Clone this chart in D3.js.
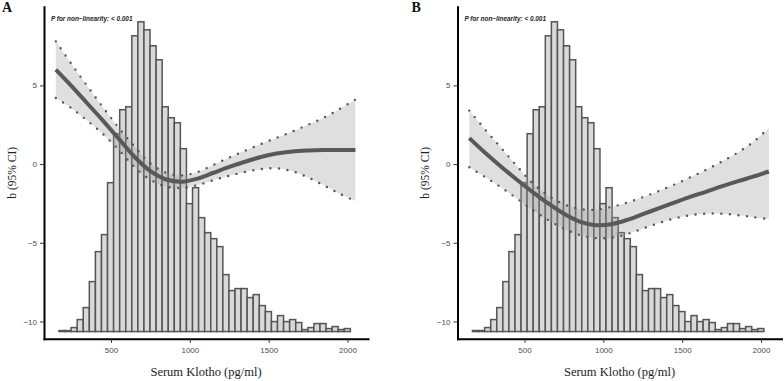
<!DOCTYPE html>
<html>
<head>
<meta charset="utf-8">
<script src="https://cdn.jsdelivr.net/npm/d3@7"></script>
<style>
  body { margin: 0; background: #fff; }
  svg { display: block; }
</style>
</head>
<body>
<div id="chart"></div>
<script>
// histogram of serum klotho (same distribution in both panels)
const binStart = 170, binWidth = 38.5;
const histCounts = [1, 1, 4, 12, 24, 50, 80, 97, 149, 198, 222, 225, 296, 310, 302, 286,
    272, 225, 214, 209, 183, 128, 144, 114, 99, 93, 85, 57, 41, 43, 43, 34,
    37, 26, 20, 10, 16, 10, 12, 9, 2, 4, 8, 8, 3, 5, 2, 3];

// spline fit
const klothoGrid = [150, 250, 350, 450, 550, 650, 750, 850, 950, 1050,
    1150, 1250, 1350, 1450, 1550, 1650, 1750, 1850, 1950, 2050];

const estA = [6.0, 4.95, 3.85, 2.75, 1.6, 0.45, -0.45, -0.98, -1.12, -0.92,
    -0.55, -0.18, 0.15, 0.45, 0.67, 0.8, 0.86, 0.89, 0.9, 0.9];
const upperA = [7.8, 6.35, 4.95, 3.6, 2.3, 1.1, 0.05, -0.55, -0.72, -0.5,
    -0.05, 0.42, 0.85, 1.27, 1.67, 2.07, 2.5, 2.95, 3.5, 4.1];
const lowerA = [4.2, 3.55, 2.75, 1.9, 0.9, -0.2, -1.0, -1.42, -1.52, -1.33,
    -1.02, -0.74, -0.5, -0.32, -0.27, -0.45, -0.85, -1.35, -1.88, -2.35];

const estB = [1.65, 0.72, -0.15, -0.98, -1.76, -2.5, -3.15, -3.65, -3.88, -3.82,
    -3.55, -3.18, -2.82, -2.45, -2.08, -1.76, -1.42, -1.1, -0.8, -0.47];
const upperB = [3.4, 2.2, 1.05, -0.1, -1.2, -2.0, -2.55, -2.85, -2.9, -2.72,
    -2.45, -2.1, -1.72, -1.3, -0.85, -0.37, 0.15, 0.72, 1.4, 2.3];
const lowerB = [-0.2, -0.82, -1.47, -2.17, -2.9, -3.55, -4.1, -4.5, -4.7, -4.68,
    -4.45, -4.1, -3.75, -3.45, -3.25, -3.15, -3.15, -3.24, -3.37, -3.5];

const xTicks = [500, 1000, 1500, 2000];
const yTicks = [-10, -5, 0, 5];
const pText = "P for non\u2212linearity: < 0.001";

const width = 784, height = 381;
const plotW = 324;

const svg = d3.select("#chart").append("svg")
    .attr("width", width)
    .attr("height", height);

const y = d3.scaleLinear().domain([-11.1, 10]).range([338.8, 6.7]);
const x = d3.scaleLinear().domain([75, 2130]).range([0, plotW]);
const yHist = d3.scaleLinear().domain([0, 310]).range([y(-10.64), y(9.04)]);

const bins = histCounts.map((c, i) => ({
    x0: binStart + i * binWidth,
    x1: binStart + (i + 1) * binWidth,
    count: c
}));

const panels = [
    { label: "A", left: 44, est: estA, lo: lowerA, hi: upperA },
    { label: "B", left: 457.5, est: estB, lo: lowerB, hi: upperB }
];

panels.forEach(p => {
    const g = svg.append("g").attr("transform", `translate(${p.left},0)`);
    const rows = klothoGrid.map((k, i) => ({ k: k, est: p.est[i], lo: p.lo[i], hi: p.hi[i] }));

    // histogram
    g.selectAll(".bar").data(bins).enter().append("rect")
        .attr("class", "bar")
        .attr("x", d => x(d.x0))
        .attr("y", d => yHist(d.count))
        .attr("width", d => x(d.x1) - x(d.x0))
        .attr("height", d => yHist(0) - yHist(d.count))
        .attr("fill", "#d9d9d9")
        .attr("stroke", "#555")
        .attr("stroke-width", 1.5);

    // ribbon
    const area = d3.area()
        .x(d => x(d.k))
        .y0(d => y(d.lo))
        .y1(d => y(d.hi))
        .curve(d3.curveCatmullRom);
    g.append("path").datum(rows)
        .attr("d", area)
        .attr("fill", "#9a9a9a")
        .attr("fill-opacity", 0.32);

    // dotted CI lines
    ["lo", "hi"].forEach(key => {
        const line = d3.line().x(d => x(d.k)).y(d => y(d[key])).curve(d3.curveCatmullRom);
        g.append("path").datum(rows)
            .attr("d", line)
            .attr("fill", "none")
            .attr("stroke", "#555")
            .attr("stroke-width", 2.4)
            .attr("stroke-linecap", "round")
            .attr("stroke-dasharray", "0,8.6");
    });

    // fitted curve
    const fit = d3.line().x(d => x(d.k)).y(d => y(d.est)).curve(d3.curveCatmullRom);
    g.append("path").datum(rows)
        .attr("d", fit)
        .attr("fill", "none")
        .attr("stroke", "#595959")
        .attr("stroke-width", 4);

    // axes
    const yAxis = g.append("g")
        .call(d3.axisLeft(y).tickValues(yTicks).tickSize(4).tickSizeOuter(0).tickPadding(3));
    const xAxis = g.append("g")
        .attr("transform", `translate(0,${y.range()[0]})`)
        .call(d3.axisBottom(x).tickValues(xTicks).tickFormat(d3.format("d"))
            .tickSize(4).tickSizeOuter(0).tickPadding(4.5));

    [yAxis, xAxis].forEach(a => {
        a.select(".domain").attr("stroke", "#000").attr("stroke-width", 2).attr("stroke-linecap", "square");
        a.selectAll(".tick line").attr("stroke", "#333").attr("stroke-width", 1);
        a.selectAll(".tick text")
            .attr("fill", "#4d4d4d")
            .style("font-family", "'Liberation Sans', Arial, sans-serif")
            .style("font-size", "8px");
    });

    // labels
    g.append("text")
        .attr("transform", `translate(-28.5,${(y.range()[0] + y.range()[1]) / 2}) rotate(-90)`)
        .attr("text-anchor", "middle")
        .style("font-family", "'Liberation Serif', 'Times New Roman', serif")
        .style("font-size", "11.5px")
        .attr("fill", "#222")
        .text("b (95% CI)");

    g.append("text")
        .attr("x", plotW / 2)
        .attr("y", 375.5)
        .attr("text-anchor", "middle")
        .style("font-family", "'Liberation Serif', 'Times New Roman', serif")
        .style("font-size", "12.5px")
        .attr("fill", "#222")
        .text("Serum Klotho (pg/ml)");

    g.append("text")
        .attr("x", 7)
        .attr("y", 21)
        .style("font-family", "'Liberation Sans', Arial, sans-serif")
        .style("font-size", "6.4px")
        .style("font-weight", "bold")
        .style("font-style", "italic")
        .attr("fill", "#222")
        .text(pText);

    g.append("text")
        .attr("x", p.label === "A" ? -42 : -46)
        .attr("y", 12)
        .style("font-family", "'Liberation Serif', 'Times New Roman', serif")
        .style("font-size", "14px")
        .style("font-weight", "bold")
        .attr("fill", "#111")
        .text(p.label);
});
</script>
</body>
</html>
